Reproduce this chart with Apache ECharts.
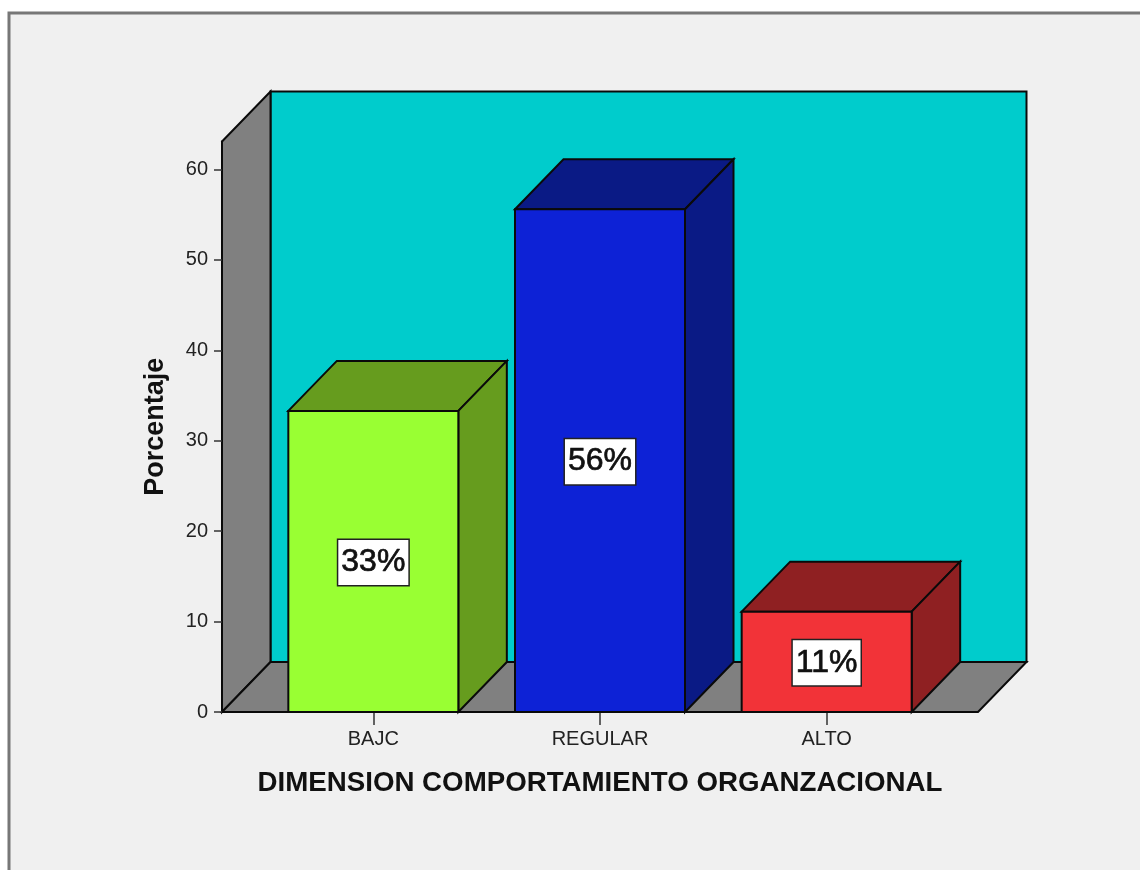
<!DOCTYPE html>
<html>
<head>
<meta charset="utf-8">
<style>html,body{margin:0;padding:0;background:#fff}#c{width:1140px;height:870px}</style>
<script src="https://cdn.jsdelivr.net/npm/echarts@6/dist/echarts.min.js"></script>
</head>
<body>
<div id="c"></div>
<script>
const categories = ['BAJC', 'REGULAR', 'ALTO'];
const percentages = [33.3, 55.6, 11.1];
const barLabels = ['33%', '56%', '11%'];
const yTicks = [0, 10, 20, 30, 40, 50, 60];
const yAxisTop = 63.1;
const xTitle = 'DIMENSION COMPORTAMIENTO ORGANZACIONAL';
const yTitle = 'Porcentaje';

const frontColors = ['#99FF33', '#0D22D6', '#F23338'];
const shadeColors = ['#669C1E', '#0A1A85', '#8F2022'];
const depthX = 48.5, depthY = -50, sidePad = 38;
const outline = '#0a0a0a', font = '"Liberation Sans", Arial, sans-serif';

const chart = echarts.init(document.getElementById('c'));

function poly(points, fill) {
  return { type: 'polygon', shape: { points }, style: { fill, stroke: outline, lineWidth: 2 } };
}

function renderWalls(params, api) {
  const cs = params.coordSys;
  const l = cs.x - sidePad, r = cs.x + cs.width + sidePad;
  const b = api.coord([0, 0])[1], t = api.coord([0, yAxisTop])[1];
  return { type: 'group', children: [
    poly([[l + depthX, t + depthY], [r + depthX, t + depthY], [r + depthX, b + depthY], [l + depthX, b + depthY]], '#00CCCC'),
    poly([[l, t], [l + depthX, t + depthY], [l + depthX, b + depthY], [l, b]], '#808080'),
    poly([[l, b], [l + depthX, b + depthY], [r + depthX, b + depthY], [r, b]], '#808080')
  ]};
}

function renderBar(params, api) {
  const i = params.dataIndex;
  const top = api.coord([i, api.value(1)]);
  const base = api.coord([i, 0]);
  const w = api.size([1, 0])[0] * 0.75;
  const l = top[0] - w / 2, r = top[0] + w / 2, t = top[1], b = base[1];
  return { type: 'group', children: [
    poly([[l, t], [l + depthX, t + depthY], [r + depthX, t + depthY], [r, t]], shadeColors[i]),
    poly([[r, t], [r + depthX, t + depthY], [r + depthX, b + depthY], [r, b]], shadeColors[i]),
    poly([[l, t], [r, t], [r, b], [l, b]], frontColors[i]),
    { type: 'text', x: top[0], y: (t + b) / 2 + 1, z2: 10, style: {
      text: barLabels[i], align: 'center', verticalAlign: 'middle', fill: '#111',
      stroke: '#111', lineWidth: 0.7,
      font: '32px ' + font, backgroundColor: '#fff', borderColor: '#222', borderWidth: 1.5,
      padding: [7, 3, 6, 3]
    }}
  ]};
}

chart.setOption({
  animation: false,
  backgroundColor: 'transparent',
  graphic: [{ type: 'rect', z: -100, silent: true,
    shape: { x: 9, y: 13, width: 1160, height: 880 },
    style: { fill: '#F0F0F0', stroke: '#777', lineWidth: 3 } }],
  grid: { left: 260, top: 141.5, width: 680, height: 570.5, containLabel: false },
  xAxis: {
    type: 'category', data: categories,
    axisLine: { show: false },
    axisTick: { show: true, alignWithLabel: true, length: 13, lineStyle: { color: '#333', width: 1.5 } },
    axisLabel: { color: '#222', fontFamily: font, fontSize: 20, margin: 17 },
    name: xTitle, nameLocation: 'middle', nameGap: 57,
    nameTextStyle: { color: '#111', fontFamily: font, fontSize: 27.7, fontWeight: 'bold' }
  },
  yAxis: {
    type: 'value', min: 0, max: yAxisTop, offset: sidePad, z: 5,
    splitLine: { show: false },
    axisLine: { show: true, onZero: false, lineStyle: { color: '#0a0a0a', width: 2 } },
    axisTick: { show: true, length: 8, customValues: yTicks, lineStyle: { color: '#333', width: 1.5 } },
    axisLabel: { color: '#222', fontFamily: font, fontSize: 20, margin: 14, customValues: yTicks },
    name: yTitle, nameLocation: 'middle', nameGap: 53,
    nameTextStyle: { color: '#111', fontFamily: font, fontSize: 27, fontWeight: 'bold' }
  },
  series: [
    { type: 'custom', name: 'walls', z: 1, silent: true, renderItem: renderWalls, data: [[0, 0]], clip: false },
    { type: 'custom', name: 'Porcentaje', z: 2, renderItem: renderBar, clip: false,
      encode: { x: 0, y: 1 },
      data: percentages.map((v, i) => [i, v]) }
  ]
});
</script>
</body>
</html>
